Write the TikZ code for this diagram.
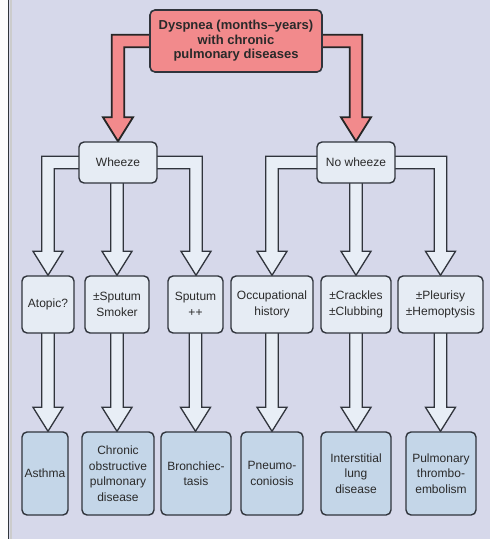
\documentclass[tikz,border=0pt]{standalone}
\usepackage{fontspec}
\setmainfont{Liberation Sans}
\usetikzlibrary{calc}
\pgfdeclarelayer{bg}
\pgfdeclarelayer{arr}
\pgfsetlayers{bg,arr,main}
\definecolor{bgc}{HTML}{D6D8EA}
\definecolor{redc}{HTML}{F28A8C}
\definecolor{midc}{HTML}{E6ECF4}
\definecolor{botc}{HTML}{C4D6E8}
\definecolor{arrc}{HTML}{E8EEF6}
\definecolor{linec}{HTML}{30343C}
\definecolor{txtc}{HTML}{2A2A2A}
% elbow fat arrow: #1 style, #2 start (node centre), #3 tip, #4 direction (1 right, -1 left)
\newcommand{\elbowfat}[4]{%
  \path[#1] let \p1=(#2), \p2=(#3) in
    (\x1,{\y1+6.25pt}) -- ({\x2+(#4)*6.25pt},{\y1+6.25pt})
    -- ({\x2+(#4)*6.25pt},{\y2+24pt}) -- ({\x2+(#4)*15pt},{\y2+24pt})
    -- (\x2,\y2) -- ({\x2-(#4)*15pt},{\y2+24pt}) -- ({\x2-(#4)*6.25pt},{\y2+24pt})
    -- ({\x2-(#4)*6.25pt},{\y1-6.25pt}) -- (\x1,{\y1-6.25pt}) -- cycle;}
% straight fat arrow down: #1 style, #2 start, #3 tip (x taken from tip)
\newcommand{\downfat}[3]{%
  \path[#1] let \p1=(#2), \p2=(#3) in
    ({\x2-6.25pt},\y1) -- ({\x2-6.25pt},{\y2+24pt}) -- ({\x2-15pt},{\y2+24pt})
    -- (\x2,\y2) -- ({\x2+15pt},{\y2+24pt}) -- ({\x2+6.25pt},{\y2+24pt})
    -- ({\x2+6.25pt},\y1) -- cycle;}
\tikzset{
  txt/.style={font=\fontsize{12}{15.5}\selectfont, text=txtc, align=center, inner sep=0pt},
  box/.style={txt, draw=linec, line width=1.4pt, rounded corners=5pt},
  midbox/.style={box, fill=midc},
  botbox/.style={box, fill=botc},
  headbox/.style={box, fill=redc, line width=1.6pt, font=\bfseries\fontsize{13}{14.5}\selectfont},
  redarrow/.style={draw=black!85, line width=1.8pt, fill=redc},
  whitearrow/.style={draw=linec, line width=1.3pt, fill=arrc},
}
\begin{document}
\begin{tikzpicture}[x=1pt,y=-1pt]
\useasboundingbox (0,0) rectangle (490,539);
\begin{pgfonlayer}{bg}
  \fill[white!92!bgc] (0,0) rectangle (490,539);
  \fill[bgc] (8,0) rectangle (490,539);
  \fill[gray!40] (9.5,0) rectangle (12,539);
  \draw[linec, line width=1.5pt] (8.5,0) -- (8.5,539);
\end{pgfonlayer}

% top
\node[headbox, minimum width=172pt, minimum height=62pt] (top) at (236,41)
  {Dyspnea (months–years)\\with chronic\\pulmonary diseases};
% second level
\node[midbox, minimum width=78pt, minimum height=41pt] (wh) at (118,162.5) {Wheeze};
\node[midbox, minimum width=78pt, minimum height=41pt] (nwh) at (356,162.5) {No wheeze};
% middle row
\node[midbox, minimum width=52pt, minimum height=57pt] (atopic) at (48,304.5) {Atopic?};
\node[midbox, minimum width=64pt, minimum height=57pt] (smoker) at (117,304.5) {±Sputum\\Smoker};
\node[midbox, minimum width=55pt, minimum height=57pt] (sputum) at (195.5,304.5) {Sputum\\++};
\node[midbox, minimum width=82pt, minimum height=57pt] (occ) at (272,304.5) {Occupational\\history};
\node[midbox, minimum width=70pt, minimum height=57pt] (crack) at (356,304.5) {±Crackles\\±Clubbing};
\node[midbox, minimum width=85pt, minimum height=57pt] (pleur) at (440.5,304.5) {±Pleurisy\\±Hemoptysis};
% bottom row
\node[botbox, minimum width=46pt, minimum height=83pt] (asthma) at (45,473.5) {Asthma};
\node[botbox, minimum width=72pt, minimum height=83pt] (copd) at (118,473.5) {Chronic\\obstructive\\pulmonary\\disease};
\node[botbox, minimum width=70pt, minimum height=83pt] (bronch) at (196,473.5) {Bronchiec-\\tasis};
\node[botbox, minimum width=62pt, minimum height=83pt] (pneumo) at (272,473.5) {Pneumo-\\coniosis};
\node[botbox, minimum width=70pt, minimum height=83pt] (ild) at (356,473.5) {Interstitial\\lung\\disease};
\node[botbox, minimum width=70pt, minimum height=83pt] (pe) at (441,473.5) {Pulmonary\\thrombo-\\embolism};

\begin{pgfonlayer}{arr}
  % red arrows from the top box
  \elbowfat{redarrow}{top.center}{wh.north}{-1}
  \elbowfat{redarrow}{top.center}{nwh.north}{1}
  % wheeze branches
  \elbowfat{whitearrow}{wh.center}{atopic.north}{-1}
  \elbowfat{whitearrow}{wh.center}{$(sputum.north)+(0.5,0)$}{1}
  \downfat{whitearrow}{wh.center}{smoker.north}
  % no wheeze branches
  \elbowfat{whitearrow}{nwh.center}{occ.north}{-1}
  \elbowfat{whitearrow}{nwh.center}{pleur.north}{1}
  \downfat{whitearrow}{nwh.center}{crack.north}
  % to diagnoses
  \downfat{whitearrow}{atopic.center}{atopic.south |- asthma.north}
  \downfat{whitearrow}{smoker.center}{smoker.south |- copd.north}
  \downfat{whitearrow}{sputum.center}{sputum.south |- bronch.north}
  \downfat{whitearrow}{occ.center}{occ.south |- pneumo.north}
  \downfat{whitearrow}{crack.center}{crack.south |- ild.north}
  \downfat{whitearrow}{pleur.center}{pleur.south |- pe.north}
\end{pgfonlayer}
\end{tikzpicture}
\end{document}
